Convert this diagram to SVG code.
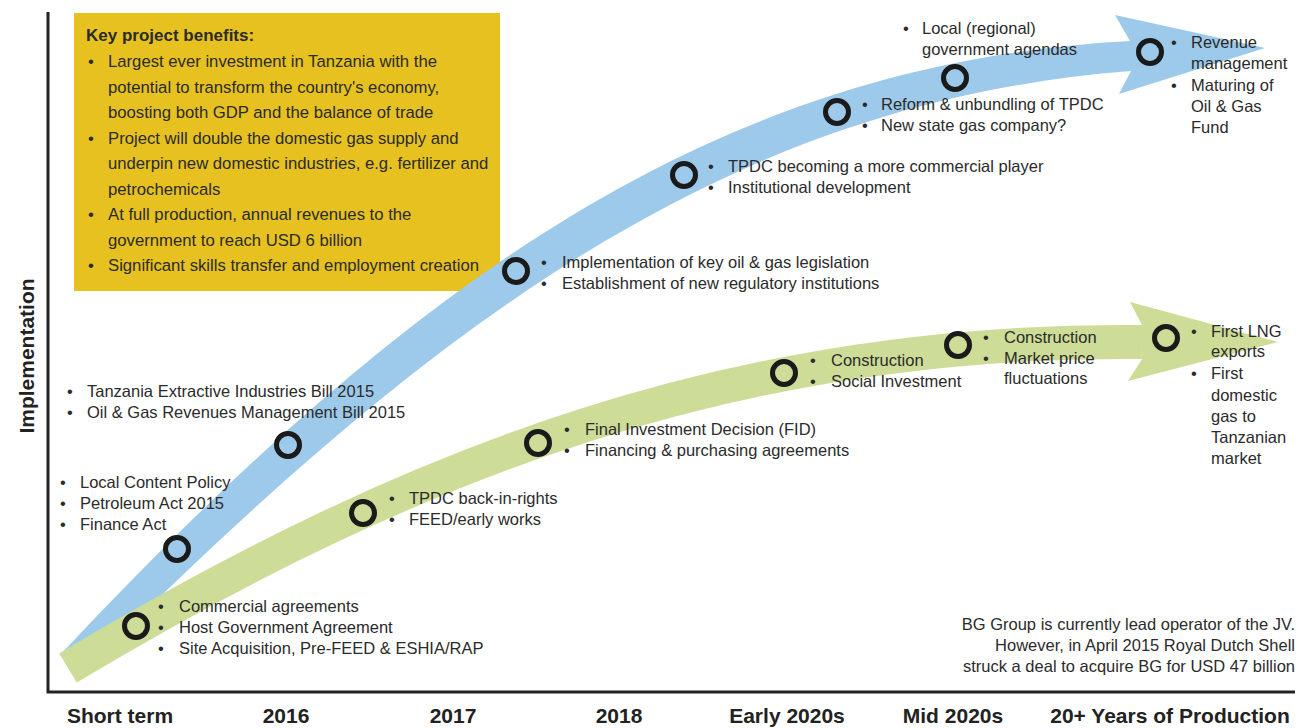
<svg xmlns="http://www.w3.org/2000/svg" width="1303" height="728" viewBox="0 0 1303 728">
<style>
text{font-family:"Liberation Sans",Arial,sans-serif;fill:#2b2b2b;}
.t{font-size:16.5px}
.bx{font-size:16.7px}
.bh{font-size:17px;font-weight:bold}
.ax{font-size:21px;font-weight:bold;text-anchor:middle;fill:#222}
.r{text-anchor:end}
.ring{fill:none;stroke:#1a1a1a;stroke-width:5}
.axis{fill:none;stroke:#222;stroke-width:3}
</style>
<rect width="1303" height="728" fill="#ffffff"/>

<g id="benefits-box">
<rect x="74" y="13" width="426" height="278" fill="#e6c11f"/>
<text class="bh" x="86" y="41">Key project benefits:</text>
<g class="bx">
<text x="88" y="67">•</text><text x="108" y="67">Largest ever investment in Tanzania with the</text>
<text x="108" y="92.5">potential to transform the country's economy,</text>
<text x="108" y="118">boosting both GDP and the balance of trade</text>
<text x="88" y="143.5">•</text><text x="108" y="143.5">Project will double the domestic gas supply and</text>
<text x="108" y="169">underpin new domestic industries, e.g. fertilizer and</text>
<text x="108" y="194.5">petrochemicals</text>
<text x="88" y="220">•</text><text x="108" y="220">At full production, annual revenues to the</text>
<text x="108" y="245.5">government to reach USD 6 billion</text>
<text x="88" y="271">•</text><text x="108" y="271">Significant skills transfer and employment creation</text>
</g>
</g>

<g id="axes">
<path class="axis" d="M48,12 V692 H1295"/>
<text class="ax" transform="translate(34,356) rotate(-90)">Implementation</text>
<text class="ax" x="120" y="723">Short term</text>
<text class="ax" x="286" y="723">2016</text>
<text class="ax" x="453" y="723">2017</text>
<text class="ax" x="619" y="723">2018</text>
<text class="ax" x="787" y="723">Early 2020s</text>
<text class="ax" x="953" y="723">Mid 2020s</text>
<text class="ax" x="1170" y="723">20+ Years of Production</text>
</g>

<g id="connectors">
<path id="policy-arrow" d="M60,655 C410,282 715,63 1130,41 L1115,15 L1265,48 L1119,94 L1131,71 C728,102 432,322 82,674 Z" fill="#9dc9ea"/>
<g id="project-arrow" fill="#cddc97">
<path d="M68,668 C418,458 742,338 1142,342" fill="none" stroke="#cddc97" stroke-width="34"/>
<path d="M1142,325 L1130,302 L1278,342 L1128,381 L1142,359 Z"/>
</g>
</g>

<g id="b1"><circle class="ring" cx="177" cy="549" r="11.5"/>
<g class="t"><text x="60" y="488">•</text><text x="80" y="488">Local Content Policy</text>
<text x="60" y="509">•</text><text x="80" y="509">Petroleum Act 2015</text>
<text x="60" y="530">•</text><text x="80" y="530">Finance Act</text></g></g>

<g id="b2"><circle class="ring" cx="288" cy="445" r="11.5"/>
<g class="t"><text x="67" y="397">•</text><text x="87" y="397">Tanzania Extractive Industries Bill 2015</text>
<text x="67" y="418">•</text><text x="87" y="418">Oil &amp; Gas Revenues Management Bill 2015</text></g></g>

<g id="b3"><circle class="ring" cx="516" cy="271" r="11.5"/>
<g class="t"><text x="541" y="268">•</text><text x="562" y="268">Implementation of key oil &amp; gas legislation</text>
<text x="541" y="289">•</text><text x="562" y="289">Establishment of new regulatory institutions</text></g></g>

<g id="b4"><circle class="ring" cx="684" cy="175" r="11.5"/>
<g class="t"><text x="708" y="171.5">•</text><text x="728" y="171.5">TPDC becoming a more commercial player</text>
<text x="708" y="193">•</text><text x="728" y="193">Institutional development</text></g></g>

<g id="b5"><circle class="ring" cx="837" cy="112" r="11.5"/>
<g class="t"><text x="862" y="110">•</text><text x="881" y="110">Reform &amp; unbundling of TPDC</text>
<text x="862" y="131">•</text><text x="881" y="131">New state gas company?</text></g></g>

<g id="b6"><circle class="ring" cx="955" cy="78" r="11.5"/>
<g class="t"><text x="903" y="34">•</text><text x="922" y="34">Local (regional)</text>
<text x="922" y="55">government agendas</text></g></g>

<g id="b7"><circle class="ring" cx="1150" cy="52" r="11.5"/>
<g class="t"><text x="1171" y="48">•</text><text x="1191" y="48">Revenue</text>
<text x="1191" y="69">management</text>
<text x="1171" y="91">•</text><text x="1191" y="91">Maturing of</text>
<text x="1191" y="112">Oil &amp; Gas</text>
<text x="1191" y="133">Fund</text></g></g>

<g id="g1"><circle class="ring" cx="136" cy="626" r="11.5"/>
<g class="t"><text x="158" y="612">•</text><text x="179" y="612">Commercial agreements</text>
<text x="158" y="632.5">•</text><text x="179" y="632.5">Host Government Agreement</text>
<text x="158" y="654">•</text><text x="179" y="654">Site Acquisition, Pre-FEED &amp; ESHIA/RAP</text></g></g>

<g id="g2"><circle class="ring" cx="363" cy="513" r="11.5"/>
<g class="t"><text x="389" y="504">•</text><text x="409" y="504">TPDC back-in-rights</text>
<text x="389" y="525">•</text><text x="409" y="525">FEED/early works</text></g></g>

<g id="g3"><circle class="ring" cx="538" cy="443" r="11.5"/>
<g class="t"><text x="564" y="435">•</text><text x="585" y="435">Final Investment Decision (FID)</text>
<text x="564" y="456">•</text><text x="585" y="456">Financing &amp; purchasing agreements</text></g></g>

<g id="g4"><circle class="ring" cx="784" cy="373" r="11.5"/>
<g class="t"><text x="810" y="366">•</text><text x="831" y="366">Construction</text>
<text x="810" y="387">•</text><text x="831" y="387">Social Investment</text></g></g>

<g id="g5"><circle class="ring" cx="958" cy="345" r="11.5"/>
<g class="t"><text x="983" y="343">•</text><text x="1004" y="343">Construction</text>
<text x="983" y="363.5">•</text><text x="1004" y="363.5">Market price</text>
<text x="1004" y="384">fluctuations</text></g></g>

<g id="g6"><circle class="ring" cx="1166" cy="338" r="11.5"/>
<g class="t"><text x="1191" y="336.5">•</text><text x="1211" y="336.5">First LNG</text>
<text x="1211" y="357">exports</text>
<text x="1191" y="379">•</text><text x="1211" y="379">First</text>
<text x="1211" y="400.5">domestic</text>
<text x="1211" y="421.5">gas to</text>
<text x="1211" y="442.5">Tanzanian</text>
<text x="1211" y="464">market</text></g></g>

<g id="note" class="t">
<text class="r" x="1295" y="630">BG Group is currently lead operator of the JV.</text>
<text class="r" x="1295" y="651">However, in April 2015 Royal Dutch Shell</text>
<text class="r" x="1295" y="672">struck a deal to acquire BG for USD 47 billion</text>
</g>
</svg>
